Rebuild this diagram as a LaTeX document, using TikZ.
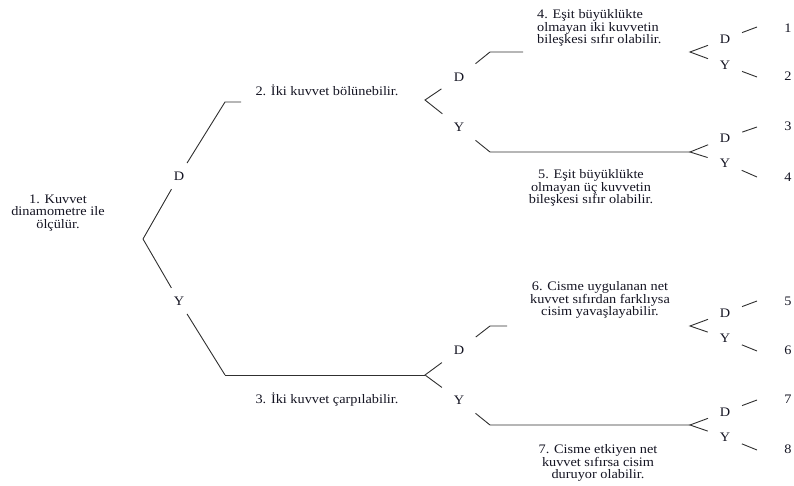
\documentclass[tikz,border=0pt]{standalone}
\usepackage{fontspec}
\setmainfont{Liberation Serif}[FakeStretch=1.1]
\definecolor{inkline}{HTML}{303030}
\definecolor{inktext}{HTML}{141422}
\begin{document}
\begin{tikzpicture}[x=1pt,y=-1pt,
  txt/.style={font=\fontsize{13}{12.8}\selectfont, text=inktext, inner sep=0pt},
  stmt/.style={txt, align=center},
  lone/.style={txt, circle, minimum size=30pt},
  ltwo/.style={txt, circle, minimum size=42pt},
  lthree/.style={txt, circle, minimum size=36pt},
  leaf/.style={txt},
  ln/.style={draw=inkline, line width=0.9pt}]
\useasboundingbox (0,0) rectangle (794,486);

% statements
\node[stmt] (s1) at (58,213) {1. Kuvvet\\dinamometre ile\\ölçülür.};
\node[stmt] (s2) at (327,90) {2. İki kuvvet bölünebilir.};
\node[stmt] (s3) at (327,400) {3. İki kuvvet çarpılabilir.};
\node[txt, align=left, anchor=west] (s4) at (537,28) {4. Eşit büyüklükte\\olmayan iki kuvvetin\\bileşkesi sıfır olabilir.};
\node[stmt] (s5) at (591,188) {5. Eşit büyüklükte\\olmayan üç kuvvetin\\bileşkesi sıfır olabilir.};
\node[stmt] (s6) at (600,300) {6. Cisme uygulanan net\\kuvvet sıfırdan farklıysa\\cisim yavaşlayabilir.};
\node[stmt] (s7) at (598,463) {7. Cisme etkiyen net\\kuvvet sıfırsa cisim\\duruyor olabilir.};

% first split
\coordinate (v1) at (143,239);
\node[lone] (d1) at (179,176) {D};
\node[lone] (y1) at (179,301) {Y};
\coordinate (k1) at (225,102);
\coordinate (e1) at (241,102);
\coordinate (k2) at (225,375);
\draw[ln] (v1) -- (d1) -- (k1) -- (e1);
\draw[ln] (v1) -- (y1) -- (k2);

% second split, upper
\coordinate (v2) at (425,100);
\node[ltwo] (d2) at (459,77) {D};
\node[ltwo] (y2) at (459,127) {Y};
\coordinate (k21) at (490,52);
\coordinate (e21) at (523,52);
\coordinate (k22) at (490,152);
\draw[ln] (d2) -- (v2) -- (y2);
\draw[ln] (d2) -- (k21) -- (e21);

% second split, lower
\coordinate (v3) at (425,375);
\node[ltwo] (d3) at (459,350) {D};
\node[ltwo] (y3) at (459,400) {Y};
\coordinate (k31) at (490,326);
\coordinate (e31) at (507,326);
\coordinate (k32) at (490,425);
\draw[ln] (k2) -- (v3);
\draw[ln] (d3) -- (v3) -- (y3);
\draw[ln] (d3) -- (k31) -- (e31);

% third splits
\coordinate (va) at (690,52);
\coordinate (vb) at (690,152);
\coordinate (vc) at (690,326);
\coordinate (vd) at (690,425);
\draw[ln] (y2) -- (k22) -- (vb);
\draw[ln] (y3) -- (k32) -- (vd);

\node[lthree] (da) at (725,39) {D};
\node[lthree] (ya) at (725,65) {Y};
\node[lthree] (db) at (725,138) {D};
\node[lthree] (yb) at (725,163) {Y};
\node[lthree] (dc) at (725,313) {D};
\node[lthree] (yc) at (725,338) {Y};
\node[lthree] (dd) at (725,412) {D};
\node[lthree] (yd) at (725,437) {Y};

\coordinate (ta1) at (757,27);
\coordinate (ta2) at (757,77);
\coordinate (tb1) at (757,127);
\coordinate (tb2) at (757,177);
\coordinate (tc1) at (757,301);
\coordinate (tc2) at (757,351);
\coordinate (td1) at (757,400);
\coordinate (td2) at (757,450);

\foreach \g in {a,b,c,d}{
  \draw[ln] (d\g) -- (v\g) -- (y\g);
  \draw[ln] (d\g) -- (t\g1);
  \draw[ln] (y\g) -- (t\g2);
}

% outcomes
\node[leaf] (n1) at (788,28) {1};
\node[leaf] (n2) at (788,76) {2};
\node[leaf] (n3) at (788,126) {3};
\node[leaf] (n4) at (788,177) {4};
\node[leaf] (n5) at (788,301) {5};
\node[leaf] (n6) at (788,350) {6};
\node[leaf] (n7) at (788,399) {7};
\node[leaf] (n8) at (788,449) {8};
\end{tikzpicture}
\end{document}
